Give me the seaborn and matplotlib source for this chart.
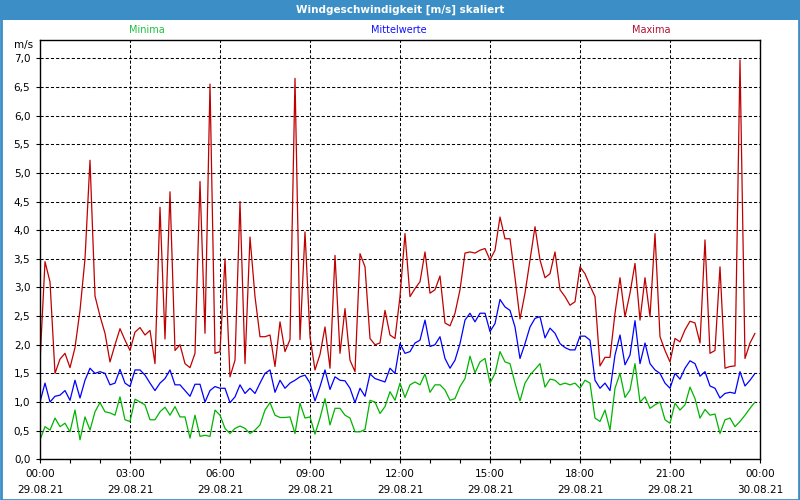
import pandas as pd
import matplotlib.pyplot as plt
import matplotlib.dates as mdates
import seaborn as sns
from matplotlib.patches import Rectangle
from matplotlib.ticker import MultipleLocator, FuncFormatter

# 10-Minuten-Werte vom 29.08.21
minima = [
    0.34, 0.57, 0.51, 0.72, 0.57, 0.63, 0.48, 0.86, 0.34, 0.74,
    0.51, 0.83, 0.99, 0.83, 0.81, 0.77, 1.09, 0.69, 0.66, 1.05,
    1.00, 0.95, 0.69, 0.69, 0.83, 0.91, 0.77, 0.92, 0.74, 0.74,
    0.37, 0.77, 0.40, 0.42, 0.40, 0.86, 0.77, 0.54, 0.45, 0.54,
    0.58, 0.54, 0.45, 0.51, 0.60, 0.86, 0.99, 0.77, 0.73, 0.73,
    0.74, 0.45, 0.98, 0.72, 0.74, 0.44, 0.72, 1.06, 0.60, 0.89,
    0.89, 0.77, 0.72, 0.48, 0.48, 0.52, 1.03, 1.00, 0.80, 0.92,
    1.18, 1.03, 1.33, 1.08, 1.30, 1.35, 1.30, 1.49, 1.17, 1.30,
    1.30, 1.21, 1.03, 1.06, 1.27, 1.41, 1.80, 1.51, 1.70, 1.76,
    1.33, 1.50, 1.88, 1.70, 1.67, 1.33, 1.02, 1.33, 1.47, 1.57,
    1.67, 1.26, 1.40, 1.38, 1.30, 1.33, 1.30, 1.33, 1.24, 1.38,
    1.33, 0.72, 0.66, 0.86, 0.51, 1.24, 1.50, 1.08, 1.21, 1.67,
    1.00, 1.09, 0.89, 0.95, 1.00, 0.69, 0.63, 0.98, 0.86, 0.95,
    1.26, 1.06, 0.72, 0.87, 0.77, 0.79, 0.45, 0.69, 0.72, 0.57,
    0.66, 0.77, 0.89, 1.00,
]
mittelwerte = [
    1.00, 1.33, 1.00, 1.10, 1.12, 1.20, 1.03, 1.38, 1.07, 1.38,
    1.59, 1.50, 1.53, 1.50, 1.30, 1.33, 1.57, 1.33, 1.27, 1.56,
    1.56, 1.47, 1.33, 1.20, 1.33, 1.41, 1.56, 1.30, 1.30, 1.20,
    1.10, 1.31, 1.31, 1.00, 1.20, 1.27, 1.24, 1.24, 0.99, 1.09,
    1.30, 1.15, 1.24, 1.15, 1.33, 1.50, 1.56, 1.17, 1.38, 1.24,
    1.33, 1.38, 1.44, 1.47, 1.33, 1.02, 1.27, 1.56, 1.22, 1.44,
    1.38, 1.37, 1.24, 0.99, 1.24, 1.10, 1.49, 1.41, 1.38, 1.35,
    1.59, 1.50, 2.02, 1.85, 1.88, 2.03, 2.08, 2.43, 1.97, 2.00,
    2.14, 1.76, 1.59, 1.73, 2.02, 2.43, 2.55, 2.40, 2.55, 2.55,
    2.23, 2.37, 2.79, 2.66, 2.60, 2.31, 1.76, 2.02, 2.31, 2.46,
    2.49, 2.12, 2.29, 2.20, 2.02, 1.95, 1.91, 1.91, 2.15, 2.15,
    2.08, 1.38, 1.24, 1.33, 1.20, 1.82, 2.17, 1.65, 1.82, 2.42,
    1.67, 2.03, 1.67, 1.56, 1.50, 1.33, 1.24, 1.50, 1.40, 1.59,
    1.72, 1.67, 1.45, 1.53, 1.28, 1.24, 1.07, 1.15, 1.17, 1.15,
    1.53, 1.28, 1.38, 1.50,
]
maxima = [
    1.70, 3.45, 3.10, 1.50, 1.75, 1.85, 1.60, 1.95, 2.60, 3.50,
    5.22, 2.85, 2.50, 2.20, 1.70, 2.00, 2.28, 2.08, 1.90, 2.22,
    2.30, 2.17, 2.25, 1.67, 4.40, 2.10, 4.67, 1.90, 2.00, 1.67,
    1.60, 1.85, 4.85, 2.20, 6.55, 1.85, 1.88, 3.50, 1.44, 1.73,
    4.50, 1.67, 3.88, 2.84, 2.14, 2.14, 2.17, 1.62, 2.40, 1.88,
    2.09, 6.65, 2.09, 3.97, 2.14, 1.56, 1.83, 2.31, 1.59, 3.56,
    1.85, 2.63, 1.73, 1.53, 3.59, 3.36, 2.11, 2.00, 2.03, 2.60,
    2.17, 2.11, 2.84, 3.94, 2.84, 2.98, 3.10, 3.62, 2.90, 2.96,
    3.20, 2.38, 2.33, 2.55, 2.96, 3.60, 3.62, 3.60, 3.65, 3.68,
    3.48, 3.65, 4.23, 3.85, 3.85, 3.17, 2.45, 2.90, 3.48, 4.06,
    3.48, 3.17, 3.24, 3.62, 2.96, 2.84, 2.69, 2.75, 3.36, 3.24,
    3.03, 2.84, 1.63, 1.78, 1.78, 2.55, 3.17, 2.49, 2.90, 3.42,
    2.43, 3.17, 2.49, 3.94, 2.14, 1.90, 1.70, 2.11, 2.05, 2.26,
    2.41, 2.38, 2.03, 3.83, 1.85, 1.90, 3.36, 1.59, 1.62, 1.63,
    6.97, 1.76, 2.03, 2.20,
]

titel = "Windgeschwindigkeit [m/s] skaliert"
serien = ["Minima", "Mittelwerte", "Maxima"]
farben = ["#00b400", "#0000ff", "#c00000"]
text_farben = ["#20c040", "#1010ff", "#b01030"]

zeit = pd.date_range("2021-08-29 00:00", periods=len(maxima), freq="10min")
df = pd.DataFrame({"Zeit": zeit, "Minima": minima,
                   "Mittelwerte": mittelwerte, "Maxima": maxima})

sns.set_theme(style="white")
plt.rcParams["font.family"] = ["DejaVu Sans"]

fig = plt.figure(figsize=(8, 5), dpi=100, facecolor="white")
ax = fig.add_axes([0.05, 0.0814, 0.90, 0.8386])

for name, farbe in zip(serien, farben):
    sns.lineplot(data=df, x="Zeit", y=name, color=farbe, linewidth=0.9,
                 ax=ax, legend=False)

ax.set_xlim(pd.Timestamp("2021-08-29 00:00"), pd.Timestamp("2021-08-30 00:00"))
ax.set_ylim(0, 7.32)
ax.set_xlabel("")
ax.set_ylabel("")

ax.xaxis.set_major_locator(mdates.HourLocator(byhour=range(0, 24, 3)))
ax.xaxis.set_major_formatter(mdates.DateFormatter("%H:%M\n%d.%m.%y"))
ax.xaxis.set_minor_locator(mdates.HourLocator())
ax.yaxis.set_major_locator(MultipleLocator(0.5))
ax.yaxis.set_major_formatter(FuncFormatter(lambda v, p: f"{v:.1f}".replace(".", ",")))

ax.tick_params(axis="both", which="major", labelsize=7.5, length=3, width=0.8,
               direction="out", colors="black", pad=4)
ax.tick_params(axis="x", which="minor", length=3, width=0.8, direction="out",
               colors="black")
ax.tick_params(axis="y", left=True)
ax.tick_params(axis="x", bottom=True, which="both")
for lbl in ax.get_xticklabels():
    lbl.set_linespacing(1.7)

ax.grid(True, which="major", color="black", linestyle=(0, (3, 2)), linewidth=0.75)
for spine in ax.spines.values():
    spine.set_color("black")
    spine.set_linewidth(1.0)

# Titelleiste und Rahmen
fig.patches.append(Rectangle((0, 0.96), 1, 0.04, transform=fig.transFigure,
                             facecolor="#3b8fc6", edgecolor="none", zorder=0))
fig.patches.append(Rectangle((0.001, 0.001), 0.998, 0.998, transform=fig.transFigure,
                             fill=False, edgecolor="#3b8fc6", linewidth=2, zorder=0))
fig.text(0.5, 0.981, titel, ha="center", va="center", color="white",
         fontsize=7.5, fontweight="bold")

# Legende als farbige Texte
for name, farbe, xpos in zip(serien, text_farben, [0.183, 0.498, 0.814]):
    fig.text(xpos, 0.94, name, ha="center", va="center", color=farbe, fontsize=7)

fig.text(0.042, 0.91, "m/s", ha="right", va="center", fontsize=7.5, color="black")

fig.savefig("out.png", dpi=100, facecolor=fig.get_facecolor())
